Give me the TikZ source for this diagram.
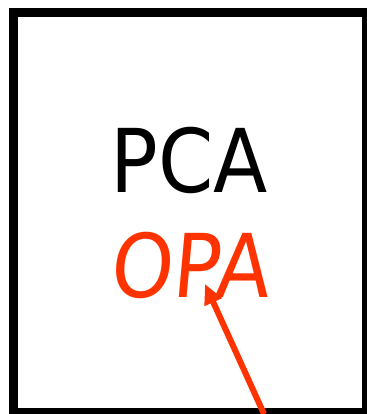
\documentclass[tikz,border=0pt]{standalone}
\usepackage{fontspec}
\setmainfont{DejaVu Sans}
\usetikzlibrary{arrows.meta}
\definecolor{opared}{RGB}{255,51,0}
\begin{document}
\begin{tikzpicture}[
    x=1pt, y=-1pt,
    word/.style={anchor=base, inner sep=0pt, xscale=0.9, font=\fontsize{88}{88}\selectfont},
    frame/.style={draw=black, line width=9pt},
    pointer/.style={draw=opared, line width=6pt, -{Triangle[length=20pt, width=18pt]}}
]
    \useasboundingbox (0,0) rectangle (366,414);
    \fill[white] (0,0) rectangle (366,414);
    \draw[frame] (13.5,12.5) rectangle (366.5,412.5);

    \node[word] (pca) at (189, 192) {PCA};
    \node[word, text=opared, xslant=0.1] (opa) at (189, 297) {OPA};

    \coordinate (tail) at (264, 414);
    \coordinate (tip) at (205, 284);
    \draw[pointer] (tail) -- (tip);
\end{tikzpicture}
\end{document}
